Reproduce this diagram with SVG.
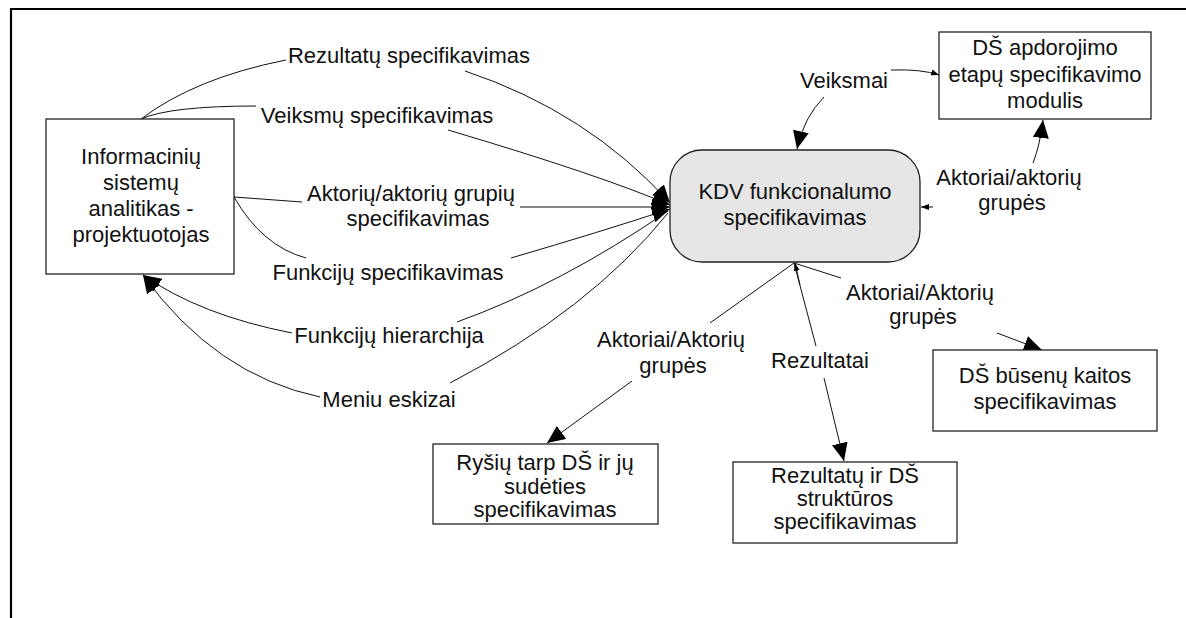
<svg xmlns="http://www.w3.org/2000/svg" width="1186" height="618" viewBox="0 0 1186 618">
  <style>
    text { font-family: "Liberation Sans", Arial, sans-serif; font-size: 22px; fill: #111; text-anchor: middle; }
    .box { fill: #ffffff; stroke: #222; stroke-width: 1.3; }
    .main { fill: #e6e6e6; stroke: #222; stroke-width: 1.3; }
    .edge { fill: none; stroke: #111; stroke-width: 1; }
    .big { marker-end: url(#arrowBig); }
    .small { marker-end: url(#arrowSmall); }
  </style>
  <defs>
    <marker id="arrowBig" markerUnits="userSpaceOnUse" viewBox="0 0 18 16" refX="18" refY="8" markerWidth="18" markerHeight="16" orient="auto">
      <path d="M0,0 L18,8 L0,16 Z" fill="#000"/>
    </marker>
    <marker id="arrowSmall" markerUnits="userSpaceOnUse" viewBox="0 0 8 6" refX="8" refY="3" markerWidth="8" markerHeight="6" orient="auto">
      <path d="M0,0 L8,3 L0,6 Z" fill="#000"/>
    </marker>
  </defs>

  <!-- page frame: top and left rules -->
  <path d="M11,618 L11,9 L1186,9" fill="none" stroke="#000" stroke-width="2.2"/>

  <!-- connectors -->
  <g id="connectors">
    <!-- analyst -> KDV -->
    <path class="edge" d="M141,119 Q195,78 286,60"/>
    <path class="edge big" d="M465,71 Q588,112 670,203"/>
    <path class="edge" d="M141,119 Q170,106 256,106"/>
    <path class="edge big" d="M448,130 Q600,175 670,205"/>
    <path class="edge" d="M234,197 L302,202"/>
    <path class="edge big" d="M520,207 L670,207"/>
    <path class="edge" d="M234,197 Q262,246 306,258"/>
    <path class="edge big" d="M511,258 Q600,232 670,209"/>
    <!-- KDV -> analyst -->
    <path class="edge big" d="M292,333 Q200,315 143,275"/>
    <path class="edge" d="M457,322 Q560,285 668,211"/>
    <path class="edge big" d="M320,397 Q215,375 143,275"/>
    <path class="edge" d="M450,383 Q590,310 668,213"/>

    <!-- Veiksmai -->
    <path class="edge small" d="M891,70 Q922,69 939,75"/>
    <path class="edge big" d="M824,97 Q804,117 797,149"/>

    <!-- Aktoriai/aktoriu grupes (upper right) -->
    <path class="edge small" d="M933,207 L921,207"/>
    <path class="edge big" d="M1033,163 Q1040,145 1043,120"/>

    <!-- from KDV bottom -->
    <path class="edge small" d="M800,285 L795,263"/>
    <path class="edge" d="M794,263 L841,278"/>
    <path class="edge big" d="M997,333 L1042,350"/>
    <path class="edge" d="M794,263 L710,323"/>
    <path class="edge big" d="M632,381 L547,443"/>
    <path class="edge" d="M794,263 L816,346"/>
    <path class="edge big" d="M824,378 L844,461"/>
  </g>

  <!-- connector labels -->
  <g id="labels">
    <text x="409" y="63">Rezultatų specifikavimas</text>
    <text x="377" y="123">Veiksmų specifikavimas</text>
    <text x="411" y="201">Aktorių/aktorių grupių</text>
    <text x="418" y="226">specifikavimas</text>
    <text x="388" y="280">Funkcijų specifikavimas</text>
    <text x="389" y="343">Funkcijų hierarchija</text>
    <text x="389" y="407">Meniu eskizai</text>
    <text x="844" y="88">Veiksmai</text>
    <text x="1009" y="185">Aktoriai/aktorių</text>
    <text x="1012" y="210">grupės</text>
    <text x="920" y="300">Aktoriai/Aktorių</text>
    <text x="923" y="324">grupės</text>
    <text x="671" y="347">Aktoriai/Aktorių</text>
    <text x="673" y="373">grupės</text>
    <text x="820" y="368">Rezultatai</text>
  </g>

  <g id="analyst">
    <rect class="box" x="46" y="119" width="188" height="155"/>
    <text x="141" y="164">Informacinių</text>
    <text x="141" y="190">sistemų</text>
    <text x="141" y="216">analitikas -</text>
    <text x="141" y="242">projektuotojas</text>
  </g>

  <g id="kdv">
    <rect class="main" x="670" y="150" width="250" height="112" rx="32" ry="32"/>
    <text x="795" y="199">KDV funkcionalumo</text>
    <text x="795" y="225">specifikavimas</text>
  </g>

  <g id="processing">
    <rect class="box" x="939" y="32" width="212" height="87"/>
    <text x="1045" y="55">DŠ apdorojimo</text>
    <text x="1045" y="82">etapų specifikavimo</text>
    <text x="1045" y="108">modulis</text>
  </g>

  <g id="relations">
    <rect class="box" x="433" y="444" width="225" height="80"/>
    <text x="545" y="470">Ryšių tarp DŠ ir jų</text>
    <text x="545" y="494">sudėties</text>
    <text x="545" y="517">specifikavimas</text>
  </g>

  <g id="results">
    <rect class="box" x="733" y="462" width="224" height="81"/>
    <text x="845" y="483">Rezultatų ir DŠ</text>
    <text x="845" y="506">struktūros</text>
    <text x="845" y="529">specifikavimas</text>
  </g>

  <g id="states">
    <rect class="box" x="933" y="350" width="224" height="81"/>
    <text x="1045" y="383">DŠ būsenų kaitos</text>
    <text x="1045" y="409">specifikavimas</text>
  </g>
</svg>
